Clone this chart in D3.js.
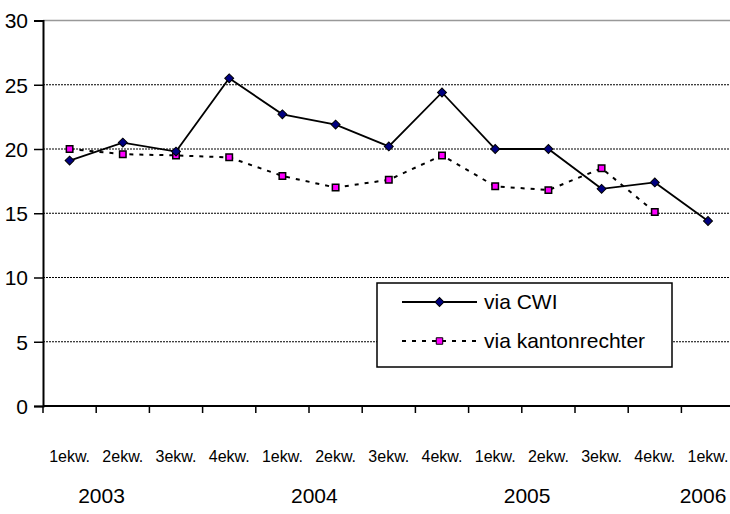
<!DOCTYPE html>
<html>
<head>
<meta charset="utf-8">
<script src="https://cdn.jsdelivr.net/npm/d3@7"></script>
<style>
  body { margin: 0; background: #fff; }
  text { font-family: "Liberation Sans", Arial, sans-serif; fill: #000; }
</style>
</head>
<body>
<svg width="730" height="514"></svg>
<script>
// quarters (categories) and the year each group starts at
const quarters = ["1ekw.", "2ekw.", "3ekw.", "4ekw.", "1ekw.", "2ekw.", "3ekw.", "4ekw.",
                  "1ekw.", "2ekw.", "3ekw.", "4ekw.", "1ekw."];
const years = ["2003", "2004", "2005", "2006"];
const yearStart = [0, 4, 8, 12];

const viaCWI = [19.1, 20.5, 19.8, 25.5, 22.7, 21.9, 20.2, 24.4, 20.0, 20.0, 16.9, 17.4, 14.4];
const viaKanton = [20.0, 19.6, 19.5, 19.35, 17.9, 17.0, 17.6, 19.5, 17.1, 16.8, 18.5, 15.1, null];

const yTicks = [0, 5, 10, 15, 20, 25, 30];

const svg = d3.select("svg");
const plotLeft = 43, plotTop = 20.5, plotBottom = 406;
const bandW = 53.2;

const x = d3.scaleBand()
    .domain(d3.range(quarters.length))
    .range([plotLeft, plotLeft + bandW * quarters.length]);
const cx = i => x(i) + x.bandwidth() / 2;

const y = d3.scaleLinear().domain([0, 30]).range([plotBottom, plotTop]);

// gridlines
svg.append("g").selectAll("line")
    .data(yTicks.filter(t => t > 0))
    .enter().append("line")
    .attr("x1", plotLeft).attr("x2", 730)
    .attr("y1", d => y(d)).attr("y2", d => y(d))
    .attr("stroke", d => d === 30 ? "#999" : "#000")
    .attr("stroke-width", d => d === 30 ? 1.5 : 1)
    .attr("stroke-dasharray", d => d === 30 ? null : "2,1");

// y axis
const yAxis = svg.append("g")
    .attr("transform", "translate(" + plotLeft + ",0)")
    .call(d3.axisLeft(y).tickValues(yTicks).tickSize(9).tickPadding(6));
yAxis.select(".domain").attr("stroke-width", 2);
yAxis.selectAll(".tick line").attr("stroke-width", 1.5);
yAxis.selectAll("text").style("font-size", "21px").attr("dy", "0.35em");

// x axis
const xAxis = svg.append("g")
    .attr("transform", "translate(0," + plotBottom + ")");
xAxis.append("line")
    .attr("x1", plotLeft).attr("x2", 730)
    .attr("y1", 0).attr("y2", 0)
    .attr("stroke", "#000").attr("stroke-width", 2);
xAxis.selectAll(".tk")
    .data(d3.range(quarters.length + 1))
    .enter().append("line")
    .attr("class", "tk")
    .attr("x1", d => plotLeft + d * x.bandwidth()).attr("x2", d => plotLeft + d * x.bandwidth())
    .attr("y1", 0).attr("y2", 7)
    .attr("stroke", "#000").attr("stroke-width", 1.5);

// quarter labels, one per category, kept inside the band
svg.append("g").selectAll("text")
    .data(quarters)
    .enter().append("text")
    .attr("x", (d, i) => cx(i))
    .attr("y", 462)
    .attr("text-anchor", "middle")
    .style("font-size", "16px")
    .text(d => d);

svg.append("g").selectAll("text")
    .data(years)
    .enter().append("text")
    .attr("x", (d, i) => Math.min(x(yearStart[i]) + x.bandwidth() * 1.1, 703))
    .attr("y", 503)
    .attr("text-anchor", "middle")
    .style("font-size", "21px")
    .text(d => d);

// series
const lineCWI = d3.line().x((d, i) => cx(i)).y(d => y(d));
const lineKanton = d3.line()
    .defined(d => d !== null)
    .x((d, i) => cx(i)).y(d => y(d));

svg.append("path")
    .datum(viaKanton)
    .attr("d", lineKanton)
    .attr("fill", "none").attr("stroke", "#000")
    .attr("stroke-width", 2).attr("stroke-dasharray", "4,6");

svg.append("path")
    .datum(viaCWI)
    .attr("d", lineCWI)
    .attr("fill", "none").attr("stroke", "#000")
    .attr("stroke-width", 1.8);

const diamond = d3.symbol().type(d3.symbolSquare).size(40);
const square = d3.symbol().type(d3.symbolSquare).size(42);

svg.append("g").selectAll("path")
    .data(viaKanton.map((v, i) => ({ v, i })).filter(d => d.v !== null))
    .enter().append("path")
    .attr("d", square)
    .attr("transform", d => "translate(" + cx(d.i) + "," + y(d.v) + ")")
    .attr("fill", "#ff00ff").attr("stroke", "#000").attr("stroke-width", 1.5);

svg.append("g").selectAll("path")
    .data(viaCWI.map((v, i) => ({ v, i })))
    .enter().append("path")
    .attr("d", diamond)
    .attr("transform", d => "translate(" + cx(d.i) + "," + y(d.v) + ") rotate(45)")
    .attr("fill", "#000080").attr("stroke", "#000").attr("stroke-width", 1);

// legend
const legend = svg.append("g");
legend.append("rect")
    .attr("x", 377).attr("y", 283).attr("width", 295).attr("height", 84)
    .attr("fill", "#fff").attr("stroke", "#000").attr("stroke-width", 1.5);

const legendItems = [
    { name: "via CWI", dash: null, sym: diamond, rot: 45, fill: "#000080", w: 1.8 },
    { name: "via kantonrechter", dash: "4,6", sym: square, rot: 0, fill: "#ff00ff", w: 2 }
];
legendItems.forEach((d, i) => {
    const ly = 302 + i * 39;
    legend.append("line")
        .attr("x1", 402).attr("x2", 477).attr("y1", ly).attr("y2", ly)
        .attr("stroke", "#000").attr("stroke-width", d.w)
        .attr("stroke-dasharray", d.dash);
    legend.append("path")
        .attr("d", d.sym)
        .attr("transform", "translate(439.5," + ly + ") rotate(" + d.rot + ")")
        .attr("fill", d.fill).attr("stroke", "#000").attr("stroke-width", 1);
    legend.append("text")
        .attr("x", 484).attr("y", ly)
        .attr("dy", "0.35em")
        .style("font-size", "21px")
        .text(d.name);
});
</script>
</body>
</html>
